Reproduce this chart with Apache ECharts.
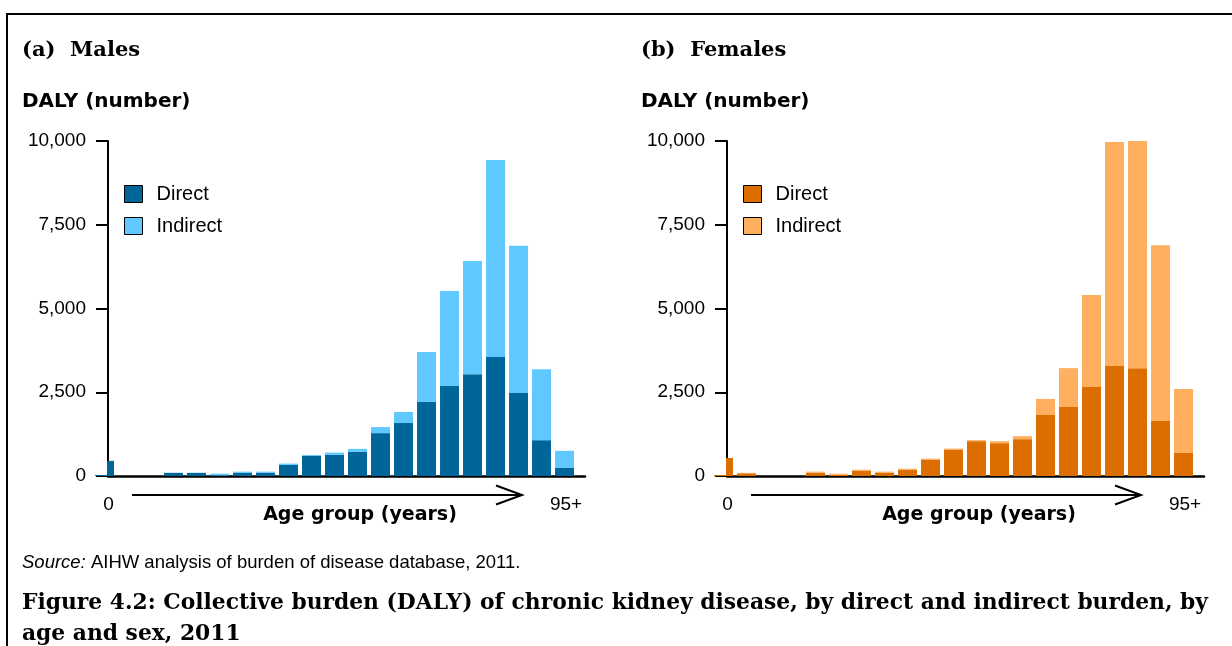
<!DOCTYPE html>
<html>
<head>
<meta charset="utf-8">
<script src="https://cdn.jsdelivr.net/npm/echarts@6/dist/echarts.min.js"></script>
<style>
html,body{margin:0;padding:0;background:#fff;}
#chart{width:1232px;height:646px;}
</style>
</head>
<body>
<div id="chart"></div>
<script>
// ---- data ----
var ageGroups = ['0','1–4','5–9','10–14','15–19','20–24','25–29','30–34','35–39','40–44','45–49','50–54','55–59','60–64','65–69','70–74','75–79','80–84','85–89','90–94','95+'];
var ageEndLabels = ['0', '95+'];
var yTicks = [0, 2500, 5000, 7500, 10000];
var malesDirect     = [450, 0, 0, 90, 90, 20, 100, 100, 330, 600, 630, 720, 1280, 1580, 2210, 2690, 3040, 3550, 2480, 1070, 240];
var malesIndirect   = [0,   0, 0, 10, 10, 50, 30,  30,  40,  30,  70,  90,  180,  330,  1490, 2830, 3380, 5880, 4390, 2120, 510];
var femalesDirect   = [540, 80, 0, 0, 100, 40, 160, 100, 190, 490, 790, 1040, 980, 1100, 1820, 2060, 2660, 3280, 3220, 1640, 690];
var femalesIndirect = [0,   15, 0, 0, 30,  30, 30,  30,  30,  30,  30,  30,   60,  90,   480,  1160, 2740, 6690, 6780, 5250, 1910];
var seriesNames = ['Direct', 'Indirect'];
var panelTitles = ['(a)  Males', '(b)  Females'];
var yAxisTitle = 'DALY (number)';
var xAxisTitle = 'Age group (years)';

var colors = {
  males: ['#006699', '#5fc9ff'],
  females: ['#dc6e00', '#feaf5f']
};

var chart = echarts.init(document.getElementById('chart'), null, {renderer: 'canvas'});

var grids = [
  {left: 108, top: 141, width: 477, height: 335},
  {left: 727, top: 141, width: 477, height: 335}
];

// value first, age-group index second (so stacking happens on the value dimension)
function pairs(arr){ return arr.map(function(v,i){ return [v, i]; }); }

var sansR = 'Liberation Sans, Arial, sans-serif';
var sansB = 'DejaVu Sans, sans-serif';
var serif = 'DejaVu Serif, serif';

var xAxes = [0,1].map(function(g){
  return {
    type: 'value', gridIndex: g, min: 0.152, max: 20.89,
    axisLine: {show: true, onZero: false, lineStyle: {color: '#000', width: 2.5}},
    axisTick: {show: false}, axisLabel: {show: false}, splitLine: {show: false}
  };
});
var yAxes = [0,1].map(function(g){
  return {
    type: 'value', gridIndex: g, min: yTicks[0], max: yTicks[yTicks.length-1], interval: yTicks[1]-yTicks[0],
    axisLine: {show: true, lineStyle: {color: '#000', width: 2}},
    axisTick: {show: true, length: 12, lineStyle: {color: '#000', width: 2}},
    axisLabel: {color: '#000', fontFamily: sansR, fontSize: 19, margin: 22,
      formatter: function(v){ return v.toLocaleString('en-US'); }},
    splitLine: {show: false}
  };
});

function barSeries(name, data, color, g){
  return {
    name: name, type: 'bar', stack: 'g' + g, xAxisIndex: g, yAxisIndex: g,
    data: pairs(data), encode: {x: 1, y: 0}, barWidth: 19, clip: true,
    itemStyle: {color: color}, emphasis: {disabled: true}, animation: false
  };
}

var series = [
  barSeries('M ' + seriesNames[0], malesDirect, colors.males[0], 0),
  barSeries('M ' + seriesNames[1], malesIndirect, colors.males[1], 0),
  barSeries('F ' + seriesNames[0], femalesDirect, colors.females[0], 1),
  barSeries('F ' + seriesNames[1], femalesIndirect, colors.females[1], 1)
];

function legend(prefix, left){
  return {
    orient: 'vertical', left: left, top: 184, padding: 0,
    data: seriesNames.map(function(n){ return prefix + n; }),
    icon: 'rect', itemWidth: 18, itemHeight: 17, itemGap: 12,
    itemStyle: {borderColor: '#000', borderWidth: 1},
    textStyle: {color: '#000', fontFamily: sansR, fontSize: 20, padding: [0, 0, 0, 9]},
    formatter: function(n){ return n.slice(2); },
    selectedMode: false
  };
}

function arrow(x0, x1, y){
  return [
    {type: 'line', shape: {x1: x0, y1: y, x2: x1, y2: y}, style: {stroke: '#000', lineWidth: 2}},
    {type: 'polyline', shape: {points: [[x1-26, y-9.5], [x1, y], [x1-26, y+9.5]]}, style: {stroke: '#000', lineWidth: 2, fill: null}}
  ];
}

var graphics = [
  {type: 'rect', shape: {x: 7, y: 14, width: 1400, height: 800}, style: {fill: null, stroke: '#000', lineWidth: 2}, silent: true}
];
[0,1].forEach(function(g){
  var L = grids[g].left;
  // white mask: the first bar is hidden behind the y axis, as in the reference
  graphics.push({type: 'rect', z: 100, shape: {x: L - 16, y: 440, width: 15, height: 35}, style: {fill: '#fff'}, silent: true});
  graphics.push({type: 'text', left: L - 86, top: 40, style: {text: panelTitles[g], font: 'bold 21px ' + serif, fill: '#000'}});
  graphics.push({type: 'text', left: L - 86, top: 92, style: {text: yAxisTitle, font: 'bold 20px ' + sansB, fill: '#000'}});
  graphics.push({type: 'text', x: L + 0.5, y: 505, style: {text: ageEndLabels[0], font: '19px ' + sansR, fill: '#000', align: 'center', verticalAlign: 'middle'}});
  graphics.push({type: 'text', x: L + 458, y: 505, style: {text: ageEndLabels[1], font: '19px ' + sansR, fill: '#000', align: 'center', verticalAlign: 'middle'}});
  graphics.push({type: 'text', x: L + 252, y: 515, style: {text: xAxisTitle, font: 'bold 19px ' + sansB, fill: '#000', align: 'center', verticalAlign: 'middle'}});
  arrow(L + 24, L + 414, 495).forEach(function(e){ graphics.push(e); });
});
graphics.push({type: 'text', left: 22, top: 553, style: {
  text: '{i|Source:} AIHW analysis of burden of disease database, 2011.',
  font: '18.5px ' + sansR, fill: '#000',
  rich: {i: {fontStyle: 'italic', fontFamily: sansR, fontSize: 18.5}}
}});
graphics.push({type: 'text', left: 22, top: 588, style: {
  text: 'Figure 4.2: Collective burden (DALY) of chronic kidney disease, by direct and indirect burden, by\nage and sex, 2011',
  font: 'bold 21.8px ' + serif, fill: '#000', lineHeight: 31
}});

chart.setOption({
  animation: false,
  grid: grids,
  xAxis: xAxes,
  yAxis: yAxes,
  legend: [legend('M ', 124), legend('F ', 743)],
  series: series,
  graphic: graphics
});
</script>
</body>
</html>
